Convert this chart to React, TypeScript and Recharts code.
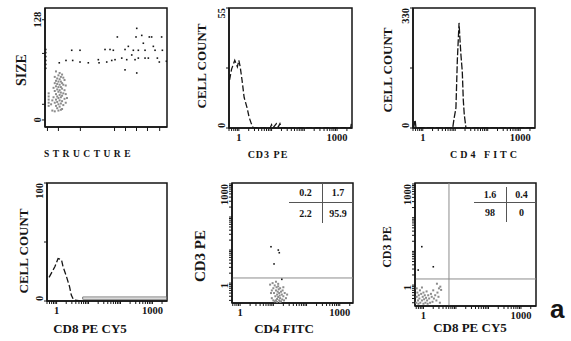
import React from 'react';
import { LineChart, Line, ScatterChart, Scatter, XAxis, YAxis, ReferenceArea, ReferenceLine } from 'recharts';

const SERIF = '"Liberation Serif", "Times New Roman", serif';
const INK = '#151515';
const GREY = '#8c8c8c';

// ---- values ----

// SIZE vs STRUCTURE
const sizeDots: [number, number][] = [
  [11.7, 73], [17.2, 76], [21.9, 89], [22.7, 76], [28.7, 89], [28.7, 74], [35.5, 73], [43.7, 77],
  [44.3, 73], [49.2, 90], [50.6, 74], [53.3, 90], [56, 89], [54.7, 76], [57.4, 77], [59.3, 106],
  [62.9, 79], [65.6, 90], [65.6, 64], [67, 77], [68.3, 94], [71.1, 83], [72.4, 89], [73.8, 77],
  [75.2, 117], [74.6, 106], [75.2, 60], [76.5, 89], [76.5, 79], [79.3, 108], [80.6, 98], [82, 89],
  [82, 79], [84.7, 79], [85.5, 106], [87.4, 106], [88.8, 94], [90.2, 89], [92.1, 79], [93.7, 74],
  [95.6, 106], [96.2, 89], [99.5, 75], [0.6, 66], [0.6, 71], [0.6, 76], [0.6, 81], [0.6, 86], [0.6, 90],
];
const sizeCluster: [number, number][] = [
  [9, 62], [12, 60], [14, 58], [11, 57], [8, 55], [13, 55], [15, 54], [10, 53], [12, 52], [16, 51],
  [9, 50], [11, 49], [13, 49], [14, 47], [8, 47], [10, 46], [12, 45], [15, 45], [17, 44], [9, 43],
  [11, 42], [13, 42], [7, 41], [14, 40], [10, 39], [12, 38], [16, 38], [8, 37], [11, 36], [13, 35],
  [15, 34], [9, 33], [12, 32], [14, 31], [10, 30], [7, 29], [13, 29], [11, 28], [16, 27], [9, 26],
  [12, 25], [14, 24], [10, 23], [8, 22], [13, 21], [11, 20], [15, 19], [9, 18], [12, 17], [10, 15],
  [14, 14], [11, 12], [8, 11], [13, 13], [3, 30], [3, 26], [3, 22], [3, 18], [3, 34], [5, 20],
  [6, 25], [17, 33], [18, 28], [17, 22], [6, 12],
];
const structTicks = [2, 11, 29, 57, 66, 75, 84, 94];

// CD3 PE histogram
const cd3Bins = [0.52, 0.6, 0.75, 0.9, 1.0, 1.1, 1.25, 1.45, 1.8, 2.05, 2.4, 2.75, 9, 10, 11, 14, 16, 18, 20, 2600, 2800];
const cd3Counts = [22, 27, 31, 28, 31, 28, 22, 14, 9, 5, 2, 0, 0, 1.5, 0, 2, 0.5, 2, 0, 0, 3];

// CD4 FITC histogram
const cd4Bins = [0.52, 0.58, 0.62, 8.35, 9.16, 10.5, 11.6, 13.1, 14.0, 15.0, 16.5, 17.7, 19.0, 21.4, 2800];
const cd4Counts = [0, 22, 0, 0, 25, 55, 187, 289, 242, 200, 154, 77, 36, 0, 0];

// CD8 PE CY5 histogram
const cd8Bins = [0.58, 0.88, 1.11, 1.42, 1.59, 2.02, 2.55, 2.88, 3.39, 5.86];
const cd8Counts = [20, 29, 36, 35, 29, 21, 12, 5, 1, 0];
const cd8TailBins = [6.56, 6.56, 2800, 2800, 6.56];
const cd8TailCounts = [1.5, 3.4, 3.4, 1.5, 1.5];

// CD3 PE vs CD4 FITC
const cd4cd3Dots: [number, number][] = [[8.5, 12.6], [14.1, 10], [15.1, 8.3], [10.5, 3.8], [18, 1.3]];
const cd4cd3Cluster: [number, number][] = [
  [8, 0.9], [9.5, 1.0], [10, 0.7], [10.5, 0.5], [11, 0.85], [11.5, 0.4], [12, 0.6], [12, 0.3],
  [12.5, 0.75], [13, 0.45], [13, 0.33], [13.5, 0.55], [14, 0.95], [14, 0.38], [14.5, 0.65], [15, 0.3],
  [15, 0.5], [15.5, 0.42], [16, 0.7], [16, 0.35], [17, 0.55], [17, 0.28], [18, 0.45], [18.5, 0.32],
  [19, 0.6], [20, 0.4], [21, 0.3], [22, 0.5], [24, 0.35], [26, 0.45], [9, 0.35], [10, 0.3],
  [11, 0.28], [8.5, 0.5], [9, 0.6], [13, 0.27], [14, 0.8], [16, 0.27], [20, 0.75], [12, 1.1],
];
const cd4cd3Quads = ['0.2', '1.7', '2.2', '95.9'];

// CD3 PE vs CD8 PE CY5
const cd8cd3Dots: [number, number][] = [[0.89, 13.8], [0.69, 2.8], [2.01, 3.5]];
const cd8cd3Cluster: [number, number][] = [
  [0.6, 0.3], [0.62, 0.45], [0.65, 0.6], [0.68, 0.35], [0.7, 0.28], [0.72, 0.5], [0.75, 0.4], [0.78, 0.7],
  [0.8, 0.3], [0.85, 0.55], [0.9, 0.35], [0.95, 0.45], [1.0, 0.28], [1.0, 0.6], [1.05, 0.38], [1.1, 0.5],
  [1.15, 0.3], [1.2, 0.42], [1.25, 0.65], [1.3, 0.35], [1.35, 0.28], [1.4, 0.5], [1.5, 0.4], [1.6, 0.3],
  [1.7, 0.55], [1.8, 0.45], [1.9, 0.32], [2.0, 0.7], [2.1, 0.4], [2.3, 0.5], [2.5, 0.35], [2.7, 0.6],
  [2.9, 0.45], [3.2, 0.3], [2.6, 1.1], [3.3, 0.9], [3.5, 0.72], [3.0, 0.8], [0.62, 0.8], [0.9, 0.85],
];
const cd8cd3Quads = ['1.6', '0.4', '98', '0'];

const logTicks = [
  0.3, 0.4, 0.5, 0.6, 0.7, 0.8, 0.9, 1, 2, 3, 4, 5, 6, 7, 8, 9, 10, 20, 30, 40, 50, 60, 70, 80, 90,
  100, 200, 300, 400, 500, 600, 700, 800, 900, 1000, 2000,
];

// ---- layout ----
const YW = 44, XH = 44, MT = 4, MR = 6;
type Box = { x0: number; y0: number; x1: number; y1: number };

const geom = (b: Box) => ({
  left: b.x0 - YW,
  top: b.y0 - MT,
  width: YW + (b.x1 - b.x0) + MR,
  height: MT + (b.y1 - b.y0) + XH,
});

const tickFont = { fontFamily: SERIF, fontWeight: 700, fontSize: 10.5, fill: INK };
const axisLine = { stroke: INK, strokeWidth: 1.5 };
const tickLine = { stroke: INK, strokeWidth: 1 };
const blank = () => <g />;

const xTick = (labels: Record<string, string>) => (p: any) => {
  const lab = labels[String(p.payload.value)];
  if (!lab) return <g />;
  return <text x={p.x} y={p.y + 8} textAnchor="middle" {...tickFont}>{lab}</text>;
};

const yTick = (labels: Record<string, string>, anchors: Record<string, string> = {}) => (p: any) => {
  const key = String(p.payload.value);
  const lab = labels[key];
  if (!lab) return <g />;
  const x = p.x + 1, y = p.y;
  return (
    <text x={x} y={y} transform={`rotate(-90 ${x} ${y})`} textAnchor={(anchors[key] as any) ?? 'middle'} {...tickFont}>
      {lab}
    </text>
  );
};

// titles are placed by page position, converted to chart coordinates
const title = (b: Box, text: string, ax: number, ay: number, size: number, vertical: boolean, spacing = 0) => () => {
  const g = geom(b);
  const x = ax - g.left, y = ay - g.top;
  return (
    <text x={x} y={y} transform={vertical ? `rotate(-90 ${x} ${y})` : undefined} textAnchor="middle"
      dominantBaseline="central" fontFamily={SERIF} fontWeight={700} fontSize={size} letterSpacing={spacing} fill={INK}>
      {text}
    </text>
  );
};

function Slot({ box, children }: { box: Box; children: React.ReactNode }) {
  const g = geom(box);
  return (
    <div style={{ position: 'absolute', left: g.left, top: g.top, width: g.width, height: g.height }}>
      {children}
    </div>
  );
}

const grayDot = (p: any) => <rect x={p.cx - 1} y={p.cy - 1} width={2} height={2} fill={GREY} />;
const blackDot = (p: any) => <rect x={p.cx - 0.8} y={p.cy - 0.8} width={1.6} height={1.6} fill={INK} />;
const pts = (a: [number, number][]) => a.map(([x, y]) => ({ x, y }));
const zip = (xs: number[], ns: number[]) => xs.map((x, i) => ({ x, n: ns[i] }));

const HIST_X: [number, number] = [0.5, 2860];

function Histogram({ box, series, yMax, yLab, yTitle, xTitle }: {
  box: Box; series: { data: { x: number; n: number }[]; color: string; dash?: string; width?: number }[];
  yMax: number; yLab: string; yTitle: [number, number]; xTitle: [string, number, number, number, number];
}) {
  const g = geom(box);
  const xt = logTicks.filter(t => t >= HIST_X[0] && t <= HIST_X[1]);
  return (
    <Slot box={box}>
      <LineChart width={g.width} height={g.height} margin={{ top: MT, right: MR, bottom: 0, left: 0 }}>
        <XAxis type="number" dataKey="x" scale="log" domain={HIST_X} allowDataOverflow ticks={xt} interval={0} height={XH}
          tick={xTick({ '1': '1', '1000': '1000' })} tickSize={3} axisLine={axisLine} tickLine={tickLine}
          label={title(box, xTitle[0], xTitle[1], xTitle[2], xTitle[3], false, xTitle[4])} />
        <YAxis type="number" domain={[0, yMax]} allowDataOverflow ticks={[0, yMax / 2, yMax]} interval={0} width={YW}
          tick={yTick({ '0': '0', [String(yMax)]: yLab }, { '0': 'start', [String(yMax)]: 'end' })}
          tickSize={3} axisLine={axisLine} tickLine={tickLine}
          label={title(box, 'CELL COUNT', yTitle[0], yTitle[1], 13, true)} />
        <ReferenceArea x1={HIST_X[0]} x2={HIST_X[1]} y1={0} y2={yMax} fill="none" stroke={INK} strokeWidth={1.5} ifOverflow="visible" />
        {series.map((s, i) => (
          <Line key={i} data={s.data} dataKey="n" type="linear" stroke={s.color} strokeWidth={s.width ?? 1.3}
            strokeDasharray={s.dash} dot={false} isAnimationActive={false} />
        ))}
      </LineChart>
    </Slot>
  );
}

function Quads({ left, top, cols, rows, values }: { left: number; top: number; cols: [number, number]; rows: [number, number]; values: string[] }) {
  const line = '1px solid #555';
  const cell = (i: number): React.CSSProperties => ({
    width: cols[i % 2], height: rows[i < 2 ? 0 : 1], boxSizing: 'border-box',
    borderRight: i % 2 === 0 ? line : undefined, borderBottom: i < 2 ? line : undefined,
    display: 'flex', alignItems: 'center', justifyContent: 'center',
  });
  return (
    <div style={{ position: 'absolute', left, top, width: cols[0] + cols[1], display: 'flex', flexWrap: 'wrap',
      fontFamily: SERIF, fontWeight: 700, fontSize: 10, color: INK }}>
      {values.map((v, i) => <div key={i} style={cell(i)}>{v}</div>)}
    </div>
  );
}

function DotPlot({ box, xDomain, yDomain, cluster, dots, hLine, vLine, yTitle, xTitle }: {
  box: Box; xDomain: [number, number]; yDomain: [number, number]; cluster: [number, number][]; dots: [number, number][];
  hLine: number; vLine?: number; yTitle: [number, number, number]; xTitle: [string, number, number];
}) {
  const g = geom(box);
  const xt = logTicks.filter(t => t >= xDomain[0] && t <= xDomain[1]);
  const yt = logTicks.filter(t => t >= yDomain[0] && t <= yDomain[1]);
  return (
    <Slot box={box}>
      <ScatterChart width={g.width} height={g.height} margin={{ top: MT, right: MR, bottom: 0, left: 0 }}>
        <XAxis type="number" dataKey="x" scale="log" domain={xDomain} allowDataOverflow ticks={xt} interval={0} height={XH}
          tick={xTick({ '1': '1', '1000': '1000' })} tickSize={3} axisLine={axisLine} tickLine={tickLine}
          label={title(box, xTitle[0], xTitle[1], xTitle[2], 13, false)} />
        <YAxis type="number" dataKey="y" scale="log" domain={yDomain} allowDataOverflow ticks={yt} interval={0} width={YW}
          tick={yTick({ '1': '1', '1000': '1000' }, { '1': 'end', '1000': 'end' })} tickSize={3}
          axisLine={axisLine} tickLine={tickLine}
          label={title(box, 'CD3 PE', yTitle[0], yTitle[1], yTitle[2], true)} />
        <ReferenceArea x1={xDomain[0]} x2={xDomain[1]} y1={yDomain[0]} y2={yDomain[1]} fill="none" stroke={INK} strokeWidth={1.5} ifOverflow="visible" />
        <ReferenceLine y={hLine} stroke={GREY} strokeWidth={1} />
        {vLine !== undefined && <ReferenceLine x={vLine} stroke={GREY} strokeWidth={1} />}
        <Scatter data={pts(cluster)} shape={grayDot} isAnimationActive={false} />
        <Scatter data={pts(dots)} shape={blackDot} isAnimationActive={false} />
      </ScatterChart>
    </Slot>
  );
}

const B1: Box = { x0: 45, y0: 8, x1: 167, y1: 127 };
const B2: Box = { x0: 229, y0: 8, x1: 352, y1: 128 };
const B3: Box = { x0: 413, y0: 8, x1: 535, y1: 128 };
const B4: Box = { x0: 47, y0: 183, x1: 167, y1: 301 };
const B5: Box = { x0: 232, y0: 183, x1: 353, y1: 303 };
const B6: Box = { x0: 415, y0: 183, x1: 536, y1: 306 };

export default function App() {
  const g1 = geom(B1);
  return (
    <div style={{ position: 'absolute', left: 0, top: 0, width: 571, height: 341, background: '#fff', overflow: 'hidden' }}>
      {/* SIZE vs STRUCTURE */}
      <Slot box={B1}>
        <ScatterChart width={g1.width} height={g1.height} margin={{ top: MT, right: MR, bottom: 0, left: 0 }}>
          <XAxis type="number" dataKey="x" domain={[0, 100]} allowDataOverflow ticks={structTicks} interval={0} height={XH}
            tick={blank} tickSize={4} axisLine={axisLine} tickLine={tickLine}
            label={title(B1, 'STRUCTURE', 89, 154, 9.5, false, 3.5)} />
          <YAxis type="number" dataKey="y" domain={[-9, 143]} allowDataOverflow ticks={[0, 20, 85, 128]} interval={0} width={YW}
            tick={yTick({ '0': '0', '128': '128' })} tickSize={3} axisLine={axisLine} tickLine={tickLine}
            label={title(B1, 'SIZE', 21, 70, 14, true)} />
          <ReferenceArea x1={0} x2={100} y1={-9} y2={143} fill="none" stroke={INK} strokeWidth={1.5} ifOverflow="visible" />
          <Scatter data={pts(sizeCluster)} shape={grayDot} isAnimationActive={false} />
          <Scatter data={pts(sizeDots)} shape={blackDot} isAnimationActive={false} />
        </ScatterChart>
      </Slot>

      <Histogram box={B2} yMax={55} yLab="55" yTitle={[201, 66]} xTitle={['CD3 PE', 268, 154, 10, 1]}
        series={[{ data: zip(cd3Bins, cd3Counts), color: INK, dash: '6 2.5' }]} />

      <Histogram box={B3} yMax={330} yLab="330" yTitle={[387, 70]} xTitle={['CD4 FITC', 485, 154, 10, 3]}
        series={[{ data: zip(cd4Bins, cd4Counts), color: INK, dash: '7 2' }]} />

      <Histogram box={B4} yMax={100} yLab="100" yTitle={[23, 251]} xTitle={['CD8 PE CY5', 90, 328, 13, 0]}
        series={[
          { data: zip(cd8Bins, cd8Counts), color: INK, dash: '6 2.5' },
          { data: zip(cd8TailBins, cd8TailCounts), color: '#777', width: 1 },
        ]} />

      <DotPlot box={B5} xDomain={[0.57, 2500]} yDomain={[0.25, 1070]} cluster={cd4cd3Cluster} dots={cd4cd3Dots}
        hLine={1.43} yTitle={[200, 256, 15]} xTitle={['CD4 FITC', 284, 328]} />
      <Quads left={289} top={183} cols={[34, 30]} rows={[20, 20]} values={cd4cd3Quads} />

      <DotPlot box={B6} xDomain={[0.55, 2900]} yDomain={[0.24, 1070]} cluster={cd8cd3Cluster} dots={cd8cd3Dots}
        hLine={1.52} vLine={6.1} yTitle={[387, 247, 12]} xTitle={['CD8 PE CY5', 470, 327]} />
      <Quads left={474} top={187} cols={[33, 29]} rows={[16, 19]} values={cd8cd3Quads} />

      <div style={{ position: 'absolute', left: 550, top: 296, fontFamily: '"Liberation Sans", Arial, sans-serif',
        fontWeight: 700, fontSize: 26, lineHeight: '26px', color: INK }}>a</div>
    </div>
  );
}
